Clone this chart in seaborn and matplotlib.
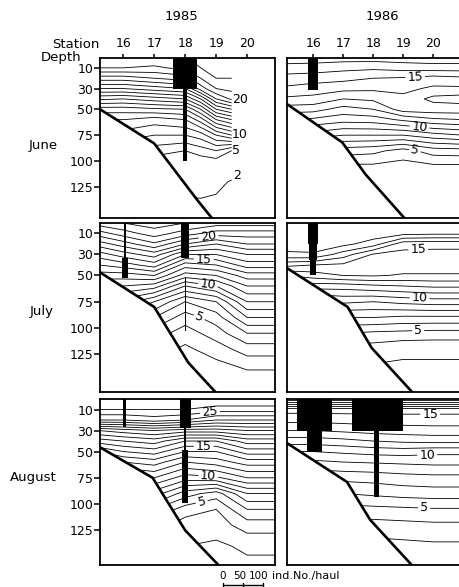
import numpy as np
import matplotlib
matplotlib.use("Agg")
import matplotlib.pyplot as plt
from matplotlib.lines import Line2D
import seaborn as sns

sns.set_theme(style="white")
plt.rcParams["font.family"] = ["DejaVu Sans"]

# ---------------- data ----------------
depths = [0, 10, 20, 30, 40, 50, 60, 75, 90, 105, 120, 140, 170]

# temperature profiles, one list per station (values at `depths`)
stations_jun85 = [15.2, 16, 17, 18, 18.5, 19, 19.5]
temp_jun85 = [
    [21.8, 21.0, 18.5, 16.0, 13.2, 10.5, 9.0, 7.5, 6.0, 4.5, 3.5, 2.5, 2.0],
    [21.8, 21.0, 18.5, 16.0, 13.0, 10.5, 9.0, 7.5, 6.0, 4.5, 3.5, 2.5, 2.0],
    [21.8, 20.8, 19.0, 16.5, 13.5, 10.8, 8.5, 7.0, 5.5, 4.0, 3.0, 2.5, 2.0],
    [21.9, 21.3, 19.5, 17.0, 14.0, 11.0, 9.0, 7.0, 5.0, 3.5, 2.5, 1.8, 1.5],
    [22.5, 22.0, 21.0, 19.5, 16.0, 13.0, 10.5, 7.5, 5.5, 4.0, 2.8, 1.8, 1.5],
    [23.0, 22.5, 22.0, 21.0, 19.0, 16.0, 13.0, 9.0, 6.0, 4.0, 2.3, 1.8, 1.5],
    [23.0, 22.6, 22.0, 21.3, 20.2, 17.0, 14.0, 10.0, 5.0, 2.8, 1.9, 1.7, 1.5],
]
levels_jun85 = [2] + list(range(5, 23))

stations_jun86 = [15.1, 16, 17, 18, 19, 20, 21]
temp_jun86 = [
    [17.6, 16.6, 15.6, 14.8, 13.8, 12.5, 11.0, 9.0, 6.0, 4.0, 3.0, 2.5, 2.0],
    [17.6, 16.5, 15.5, 14.5, 13.7, 12.4, 10.8, 8.5, 6.0, 4.0, 3.0, 2.5, 2.0],
    [17.5, 16.3, 15.3, 14.3, 13.0, 11.6, 10.4, 8.0, 5.5, 3.8, 3.0, 2.5, 2.0],
    [17.5, 16.2, 15.0, 14.2, 13.2, 12.0, 10.5, 8.0, 5.3, 3.8, 3.0, 2.5, 2.0],
    [17.6, 16.4, 14.9, 14.3, 13.7, 13.5, 11.2, 8.0, 4.6, 3.6, 2.8, 2.5, 2.0],
    [17.7, 16.5, 14.6, 13.8, 12.7, 13.6, 11.8, 8.6, 5.5, 3.8, 3.0, 2.5, 2.0],
    [17.7, 16.5, 14.8, 13.8, 12.5, 13.6, 12.0, 9.0, 5.6, 3.8, 3.0, 2.5, 2.0],
]
levels_jun86 = list(range(4, 18))

stations_jul85 = [15.2, 16, 17, 18, 19, 20, 21]
temp_jul85 = [
    [22.5, 20.5, 18.5, 16.5, 15.0, 13.5, 12.0, 10.0, 8.0, 6.0, 4.0, 3.0, 2.0],
    [23.0, 21.5, 19.5, 17.5, 15.5, 13.5, 12.0, 9.5, 7.5, 5.5, 4.0, 3.0, 2.0],
    [23.5, 22.5, 20.8, 18.5, 16.5, 14.0, 11.5, 8.0, 6.0, 4.5, 3.5, 2.5, 2.0],
    [23.0, 21.5, 19.0, 16.0, 13.5, 11.5, 9.0, 6.0, 4.5, 3.5, 2.8, 2.2, 2.0],
    [22.5, 20.5, 18.0, 16.0, 14.0, 12.0, 10.0, 7.0, 5.5, 4.5, 3.5, 2.5, 2.0],
    [22.5, 20.5, 19.0, 17.0, 15.5, 13.5, 12.0, 10.0, 8.0, 6.0, 4.5, 3.0, 2.0],
    [22.5, 20.5, 19.0, 17.0, 15.5, 13.5, 12.0, 10.0, 8.0, 6.0, 4.5, 3.0, 2.0],
]
levels_jul85 = list(range(2, 24))

stations_jul86 = [15.1, 16, 17, 18, 19, 20, 21]
temp_jul86 = [
    [19.0, 18.8, 18.5, 17.8, 15.3, 13.0, 11.0, 8.5, 7.0, 5.0, 3.5, 2.8, 2.5],
    [19.0, 18.8, 18.4, 17.9, 15.0, 13.5, 11.5, 8.8, 7.0, 5.0, 3.5, 2.8, 2.5],
    [19.0, 18.7, 18.3, 16.5, 14.8, 14.0, 11.5, 9.2, 7.0, 5.0, 3.5, 2.8, 2.5],
    [19.0, 18.6, 17.5, 14.9, 14.5, 14.1, 11.8, 9.0, 7.0, 4.8, 3.5, 2.8, 2.5],
    [19.0, 18.3, 15.4, 14.7, 14.5, 13.9, 12.0, 9.3, 6.8, 4.7, 3.2, 2.8, 2.5],
    [19.0, 18.2, 15.3, 14.7, 14.5, 13.9, 12.2, 9.5, 6.8, 4.6, 3.2, 2.8, 2.5],
    [19.0, 18.2, 15.3, 14.7, 14.5, 13.9, 12.2, 9.5, 6.8, 4.6, 3.2, 2.8, 2.5],
]
levels_jul86 = list(range(3, 19))

stations_aug85 = [15.2, 16, 17, 18, 19, 20, 21]
temp_aug85 = [
    [27.0, 26.0, 24.0, 19.0, 16.5, 14.0, 12.5, 10.0, 8.0, 6.0, 4.5, 3.0, 2.5],
    [27.0, 26.0, 24.0, 19.5, 17.0, 15.0, 13.0, 10.5, 8.0, 6.0, 4.5, 3.0, 2.5],
    [27.0, 26.0, 24.5, 20.0, 17.5, 15.5, 13.5, 11.0, 8.5, 6.0, 4.5, 3.0, 2.5],
    [27.0, 26.0, 24.0, 19.5, 16.0, 14.0, 12.0, 9.5, 6.5, 4.5, 3.5, 3.0, 2.5],
    [27.0, 25.5, 23.0, 19.5, 16.0, 14.0, 12.5, 9.8, 5.5, 4.0, 3.5, 2.8, 2.5],
    [27.0, 25.5, 23.0, 20.0, 17.5, 15.5, 13.5, 11.0, 8.0, 6.0, 4.5, 3.2, 2.5],
    [27.0, 25.5, 23.0, 20.0, 17.5, 15.5, 13.5, 11.0, 8.0, 6.0, 4.5, 3.2, 2.5],
]
levels_aug85 = list(range(3, 27))

stations_aug86 = [15.1, 16, 17, 18, 19, 20, 21]
temp_aug86 = [
    [20.5, 15.4, 14.3, 13.0, 11.5, 10.0, 8.8, 7.2, 6.0, 4.6, 3.6, 2.6, 2.0],
    [20.5, 15.4, 14.3, 13.0, 11.5, 10.0, 8.8, 7.2, 6.0, 4.6, 3.6, 2.6, 2.0],
    [20.5, 15.4, 14.4, 13.2, 11.7, 10.2, 9.0, 7.3, 6.0, 4.6, 3.6, 2.6, 2.0],
    [20.5, 15.4, 14.5, 13.4, 12.0, 10.4, 9.1, 7.4, 6.2, 4.7, 3.6, 2.6, 2.0],
    [20.5, 15.4, 14.5, 13.5, 12.2, 10.5, 9.2, 7.6, 6.4, 4.8, 3.7, 2.7, 2.0],
    [20.5, 15.4, 14.5, 13.6, 12.3, 10.3, 9.3, 7.7, 6.5, 4.9, 3.8, 2.8, 2.0],
    [20.5, 15.4, 14.5, 13.6, 12.3, 10.3, 9.3, 7.7, 6.5, 4.9, 3.8, 2.8, 2.0],
]
levels_aug86 = list(range(2, 21))

# bottom profile (station, depth)
bathy_st_jun85 = [15.25, 17.0, 18.4, 19.05]
bathy_dp_jun85 = [50, 83, 138, 162]
bathy_st_jul85 = [15.25, 17.0, 18.1, 19.1]
bathy_dp_jul85 = [47, 80, 133, 165]
bathy_st_aug85 = [15.25, 16.95, 18.0, 19.3]
bathy_dp_aug85 = [46, 75, 125, 165]
bathy_st_jun86 = [15.13, 16.97, 17.75, 19.1]
bathy_dp_jun86 = [45, 82, 113, 157]
bathy_st_jul86 = [15.13, 17.15, 17.95, 19.33]
bathy_dp_jul86 = [43, 80, 119, 162]
bathy_st_aug86 = [15.13, 17.13, 17.9, 19.35]
bathy_dp_aug86 = [42, 79, 115, 160]

# catches (ind. No./haul) per station and depth layer
bar_st_jun85 = [18, 18]
bar_top_jun85 = [0, 30]
bar_bot_jun85 = [30, 100]
bar_n_jun85 = [60, 10]

bar_st_jun86 = [16]
bar_top_jun86 = [0]
bar_bot_jun86 = [31]
bar_n_jun86 = [25]

bar_st_jul85 = [16.05, 16.05, 18, 18]
bar_top_jul85 = [0, 33, 0, 52]
bar_bot_jul85 = [33, 52, 33, 103]
bar_n_jul85 = [4, 14, 20, 3]

bar_st_jul86 = [16, 16, 16]
bar_top_jul86 = [0, 20, 35]
bar_bot_jul86 = [20, 35, 50]
bar_n_jul86 = [26, 21, 15]

bar_st_aug85 = [16.05, 18, 18, 18]
bar_top_aug85 = [0, 0, 28, 49]
bar_bot_aug85 = [27, 28, 49, 99]
bar_n_aug85 = [8, 28, 4, 14]

bar_st_aug86 = [16.05, 16.05, 18.15, 18.1]
bar_top_aug86 = [0, 30, 0, 30]
bar_bot_aug86 = [30, 50, 30, 93]
bar_n_aug86 = [88, 38, 128, 12]

# isotherm labels
lab_lv_jun85 = [20, 10, 5, 2]
lab_xy_jun85 = [(19.5, 41), (19.5, 74), (19.5, 90), (19.55, 114)]
lab_lv_jun86 = [15, 10, 5]
lab_xy_jun86 = [(19.4, 19), (19.55, 65), (19.4, 87)]
lab_lv_jul85 = [20, 15, 10, 5]
lab_xy_jul85 = [(18.75, 12), (18.6, 34), (18.75, 55), (18.6, 77)]
lab_lv_jul86 = [15, 10, 5]
lab_xy_jul86 = [(19.5, 23), (19.55, 70), (19.5, 102)]
lab_lv_aug85 = [25, 15, 10, 5]
lab_xy_aug85 = [(18.8, 13), (18.6, 42), (18.75, 72), (18.5, 93)]
lab_lv_aug86 = [15, 10, 5]
lab_xy_aug86 = [(19.9, 14), (19.8, 52), (19.7, 103)]

years = ["1985", "1986"]
months = ["June", "July", "August"]
station_ticks = [16, 17, 18, 19, 20]
depth_ticks = [10, 30, 50, 75, 100, 125]
scale_ticks = [0, 50, 100]

# ---------------- layout ----------------
W, H = 459, 587
fig = plt.figure(figsize=(W / 100, H / 100), dpi=100)
fig.patch.set_facecolor("white")


def px_axes(x0, y0, x1, y1):
    return fig.add_axes([x0 / W, 1 - y1 / H, (x1 - x0) / W, (y1 - y0) / H])


col_px = [(100, 275), (287, 465)]
col_xlim = [(15.25, 20.9), (15.13, 21.06)]
row_px = [(57.5, 218, 155), (223, 392, 161), (399, 565, 158)]

panels = [
    (0, 0, stations_jun85, temp_jun85, levels_jun85, bathy_st_jun85, bathy_dp_jun85,
     bar_st_jun85, bar_top_jun85, bar_bot_jun85, bar_n_jun85, lab_lv_jun85, lab_xy_jun85),
    (0, 1, stations_jun86, temp_jun86, levels_jun86, bathy_st_jun86, bathy_dp_jun86,
     bar_st_jun86, bar_top_jun86, bar_bot_jun86, bar_n_jun86, lab_lv_jun86, lab_xy_jun86),
    (1, 0, stations_jul85, temp_jul85, levels_jul85, bathy_st_jul85, bathy_dp_jul85,
     bar_st_jul85, bar_top_jul85, bar_bot_jul85, bar_n_jul85, lab_lv_jul85, lab_xy_jul85),
    (1, 1, stations_jul86, temp_jul86, levels_jul86, bathy_st_jul86, bathy_dp_jul86,
     bar_st_jul86, bar_top_jul86, bar_bot_jul86, bar_n_jul86, lab_lv_jul86, lab_xy_jul86),
    (2, 0, stations_aug85, temp_aug85, levels_aug85, bathy_st_aug85, bathy_dp_aug85,
     bar_st_aug85, bar_top_aug85, bar_bot_aug85, bar_n_aug85, lab_lv_aug85, lab_xy_aug85),
    (2, 1, stations_aug86, temp_aug86, levels_aug86, bathy_st_aug86, bathy_dp_aug86,
     bar_st_aug86, bar_top_aug86, bar_bot_aug86, bar_n_aug86, lab_lv_aug86, lab_xy_aug86),
]

PX_PER_IND = 40 / 100  # scale bar: 100 ind. = 40 px
LW = 0.6

for (r, c, st, temp, levels, bst, bdp, bs, bt, bb, bn, llv, lxy) in panels:
    x0, x1 = col_px[c]
    y0, y1, dmax = row_px[r]
    ax = px_axes(x0, y0, x1, y1)
    ax.set_facecolor("white")
    ax.set_xlim(*col_xlim[c])
    ax.set_ylim(dmax, 0)

    Z = np.array(temp, dtype=float).T
    labelled_here = not (r == 0 and c == 0)
    plain_levels = [lv for lv in levels if not (labelled_here and lv in llv)]
    ax.contour(st, depths, Z, levels=plain_levels, colors="black",
               linewidths=LW, zorder=1)

    # seabed
    ax.fill_between(bst, bdp, 400, color="white", zorder=2, linewidth=0)
    sns.lineplot(x=bst, y=bdp, ax=ax, color="black", linewidth=1.9,
                 zorder=3, sort=False)

    # catch bars
    px_per_st = (x1 - x0) / (col_xlim[c][1] - col_xlim[c][0])
    widths = [n * PX_PER_IND / px_per_st for n in bn]
    heights = [b - t for t, b in zip(bt, bb)]
    ax.bar(bs, heights, bottom=bt, width=widths, color="black",
           linewidth=0, zorder=4, align="center")

    ax.set_xlim(*col_xlim[c])
    ax.set_ylim(dmax, 0)
    ax.set_xlabel("")
    ax.set_ylabel("")
    ax.grid(False)

    # isotherm labels
    if not labelled_here:
        for lv, (lx, ly) in zip(llv, lxy):
            ax.text(lx, ly, str(lv), fontsize=9, ha="left", va="center",
                    color="black", zorder=5)
    else:
        cs_lab = ax.contour(st, depths, Z, levels=sorted(llv), colors="black",
                            linewidths=LW, zorder=1)
        ax.clabel(cs_lab, manual=lxy, inline=True, fmt="%d",
                  fontsize=9, inline_spacing=2)

    for sp in ax.spines.values():
        sp.set_color("black")
        sp.set_linewidth(1.3)

    if c == 0:
        ax.set_yticks(depth_ticks)
        ax.set_yticklabels([str(d) for d in depth_ticks])
        ax.tick_params(axis="y", left=True, direction="out", length=4,
                       width=1.1, pad=1, labelsize=9, colors="black")
    else:
        ax.set_yticks([])
    if r == 0:
        ax.set_xticks(station_ticks)
        ax.set_xticklabels([str(s) for s in station_ticks])
        ax.tick_params(axis="x", top=True, labeltop=True, bottom=False,
                       labelbottom=False, direction="out", length=3,
                       width=1.1, pad=2.5, labelsize=9, colors="black")
    else:
        ax.set_xticks([])


def ftext(x, y, s, **kw):
    fig.text(x / W, 1 - y / H, s, color="black", **kw)


ftext(181, 16, years[0], fontsize=9.5, ha="center", va="center")
ftext(382, 16, years[1], fontsize=9.5, ha="center", va="center")
ftext(76, 45, "Station", fontsize=9.5, ha="center", va="center")
ftext(61, 58, "Depth", fontsize=9.5, ha="center", va="center")
ftext(43, 146, months[0], fontsize=9.5, ha="center", va="center")
ftext(42, 311, months[1], fontsize=9.5, ha="center", va="center")
ftext(33, 477, months[2], fontsize=9.5, ha="center", va="center")

# scale bar for catches (0-50-100 ind. = 0-20-40 px)
scale_x0 = 223
for n, xc in zip(scale_ticks, (223, 240, 259)):
    ftext(xc, 576, str(n), fontsize=7.5, ha="center", va="center")
ftext(272, 576, "ind.No./haul", fontsize=8, ha="left", va="center")
ybar = 1 - 585 / H
fig.add_artist(Line2D([scale_x0 / W, (scale_x0 + 40) / W], [ybar, ybar],
                      transform=fig.transFigure, color="black", linewidth=1))
for n in scale_ticks:
    xt = scale_x0 + n * PX_PER_IND
    fig.add_artist(Line2D([xt / W, xt / W], [ybar - 2 / H, ybar + 2 / H],
                          transform=fig.transFigure, color="black", linewidth=1))

fig.savefig("out.png", dpi=100, facecolor="white")
